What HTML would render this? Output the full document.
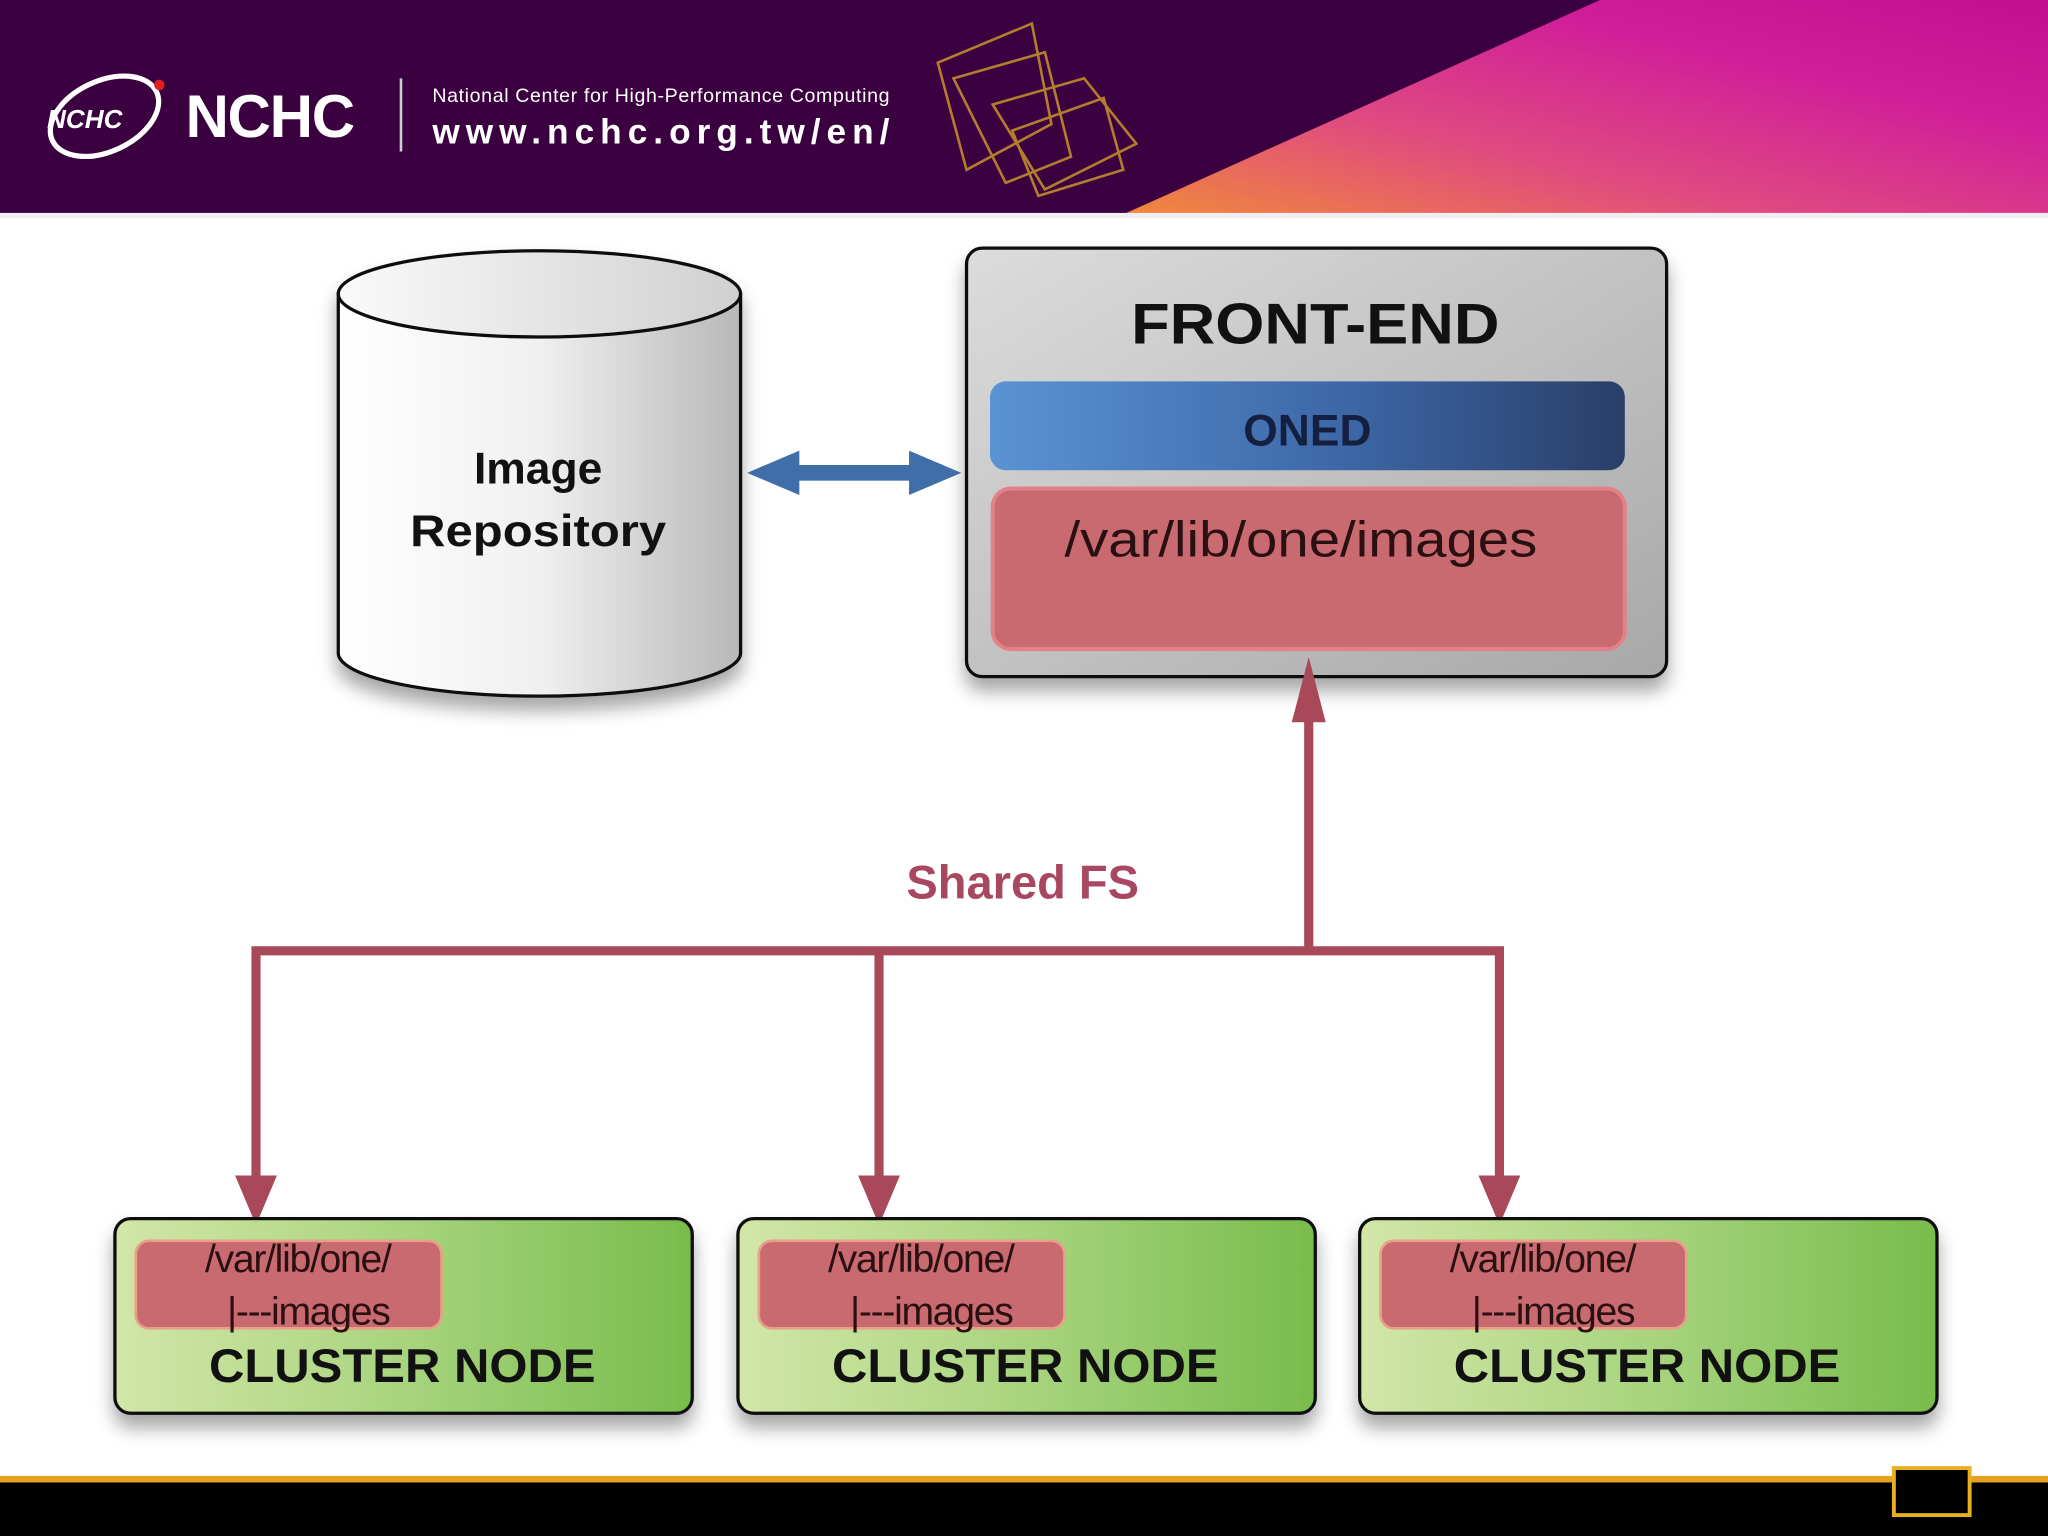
<!DOCTYPE html>
<html><head><meta charset="utf-8"><style>
html,body{margin:0;padding:0;background:#fff;width:2048px;height:1536px;overflow:hidden}
svg{display:block}
text{font-family:"Liberation Sans",sans-serif}
</style></head><body>
<svg width="2048" height="1536" viewBox="0 0 1568 1176" xmlns="http://www.w3.org/2000/svg">
<defs>
<linearGradient id="pink" x1="0" y1="1" x2="1" y2="0">
<stop offset="0" stop-color="#f08a3a"/><stop offset="0.35" stop-color="#e04a80"/><stop offset="0.7" stop-color="#d01e9a"/><stop offset="1" stop-color="#c0108e"/></linearGradient>
<linearGradient id="cyl" x1="0" y1="0" x2="1" y2="0">
<stop offset="0" stop-color="#ffffff"/><stop offset="0.5" stop-color="#f0f0f0"/><stop offset="1" stop-color="#b8b8b8"/></linearGradient>
<linearGradient id="cyltop" x1="0" y1="0" x2="1" y2="0">
<stop offset="0" stop-color="#fafafa"/><stop offset="1" stop-color="#d0d0d0"/></linearGradient>
<linearGradient id="fe" x1="0" y1="0" x2="1" y2="1">
<stop offset="0" stop-color="#dcdcdc"/><stop offset="1" stop-color="#a8a8a8"/></linearGradient>
<linearGradient id="oned" x1="0" y1="0" x2="1" y2="0">
<stop offset="0" stop-color="#5a92d4"/><stop offset="0.55" stop-color="#3d68a8"/><stop offset="1" stop-color="#2a3e68"/></linearGradient>
<linearGradient id="grn" x1="0" y1="0" x2="1" y2="0">
<stop offset="0" stop-color="#d2e6a8"/><stop offset="0.5" stop-color="#a8d47e"/><stop offset="1" stop-color="#78bc4c"/></linearGradient>
<filter id="sh" x="-10%" y="-10%" width="130%" height="140%"><feDropShadow dx="0" dy="10" stdDeviation="7" flood-color="#000" flood-opacity="0.35"/></filter>
</defs>
<!-- header -->
<rect x="0" y="0" width="1568" height="165" fill="#3a0040"/>
<polygon points="1225,0 1568,0 1568,165 858,165" fill="url(#pink)"/>
<rect x="0" y="163" width="1568" height="4" fill="#f4eef4"/>
<ellipse cx="80" cy="89" rx="44" ry="27" fill="none" stroke="#fff" stroke-width="4" transform="rotate(-25 80 89)"/>
<circle cx="122" cy="65" r="4" fill="#e02020"/>
<text x="36" y="98" font-size="20" font-style="italic" font-weight="bold" fill="#fff">NCHC</text>
<text x="142" y="105" font-size="46" fill="#fff" font-weight="bold" letter-spacing="-1">NCHC</text>
<rect x="306" y="60" width="2" height="56" fill="#ccc"/>
<text x="331" y="78" font-size="15" fill="#fff" textLength="350">National Center for High-Performance Computing</text>
<text x="331" y="110" font-size="27" fill="#fff" font-weight="bold" textLength="350">www.nchc.org.tw/en/</text>
<g fill="none" stroke="#c8942a" stroke-width="2" opacity="0.85">
<polygon points="718,48 790,18 805,95 740,130"/>
<polygon points="760,80 830,60 870,110 800,145"/>
<polygon points="730,60 800,40 820,120 770,140"/>
<polygon points="775,100 845,75 860,130 795,150"/>
</g>
<!-- bottom -->
<rect x="0" y="1130" width="1568" height="5" fill="#e8a020"/>
<rect x="0" y="1135" width="1568" height="41" fill="#000"/>
<rect x="1450" y="1124" width="58" height="36" fill="#000" stroke="#e8b020" stroke-width="3"/>
<!-- cylinder -->
<g filter="url(#sh)">
<path d="M259,225 L259,500 A154,33 0 0 0 567,500 L567,225 Z" fill="url(#cyl)" stroke="#111" stroke-width="2.5"/>
<ellipse cx="413" cy="225" rx="154" ry="33" fill="url(#cyltop)" stroke="#111" stroke-width="2.5"/>
</g>
<text x="412" y="370" font-size="34" font-weight="bold" text-anchor="middle" fill="#111">Image</text>
<text x="314" y="418" font-size="34" font-weight="bold" fill="#111" textLength="196" lengthAdjust="spacingAndGlyphs">Repository</text>
<!-- front end -->
<rect x="740" y="190" width="536" height="328" rx="12" fill="url(#fe)" stroke="#111" stroke-width="2.5" filter="url(#sh)"/>
<text x="866" y="263" font-size="44" font-weight="bold" fill="#111" textLength="282" lengthAdjust="spacingAndGlyphs">FRONT-END</text>
<rect x="758" y="292" width="486" height="68" rx="12" fill="url(#oned)"/>
<text x="1001" y="341" font-size="34" font-weight="bold" text-anchor="middle" fill="#152040">ONED</text>
<rect x="760" y="374" width="484" height="123" rx="14" fill="#c86a70" stroke="#e48088" stroke-width="3"/>
<text x="815" y="426" font-size="38" fill="#2a1010" textLength="362" lengthAdjust="spacingAndGlyphs">/var/lib/one/images</text>
<!-- double arrow -->
<g fill="#3f6ea8">
<rect x="600" y="356" width="110" height="12"/>
<polygon points="572,362 612,345 612,379"/>
<polygon points="736,362 696,345 696,379"/>
</g>
<!-- red connectors -->
<g stroke="#a84858" stroke-width="7" fill="none">
<polyline points="1002,545 1002,728"/>
<polyline points="196,912 196,728 1148,728 1148,912"/>
<line x1="673" y1="728" x2="673" y2="912"/>
</g>
<g fill="#a84858">
<polygon points="1002,503 989,553 1015,553"/>
<polygon points="196,938 180,900 212,900"/>
<polygon points="673,938 657,900 689,900"/>
<polygon points="1148,938 1132,900 1164,900"/>
</g>
<text x="783" y="688" font-size="36" font-weight="bold" text-anchor="middle" fill="#a84860">Shared FS</text>
<!-- cluster nodes -->
<g id="cn">
<rect x="88" y="933" width="442" height="149" rx="12" fill="url(#grn)" stroke="#111" stroke-width="2.5" filter="url(#sh)"/>
<rect x="104" y="950" width="234" height="67" rx="10" fill="#c86a70" stroke="#e8a088" stroke-width="2"/>
<text x="228" y="974" font-size="30" font-family="Liberation Serif" text-anchor="middle" fill="#2a1010" letter-spacing="-1">/var/lib/one/</text>
<text x="236" y="1014" font-size="30" font-family="Liberation Serif" text-anchor="middle" fill="#2a1010" letter-spacing="-1">|---images</text>
<text x="160" y="1058" font-size="36" font-weight="bold" fill="#111" textLength="296" lengthAdjust="spacingAndGlyphs">CLUSTER NODE</text>
</g>
<use href="#cn" x="477"/>
<use href="#cn" x="953"/>
</svg>
</body></html>
